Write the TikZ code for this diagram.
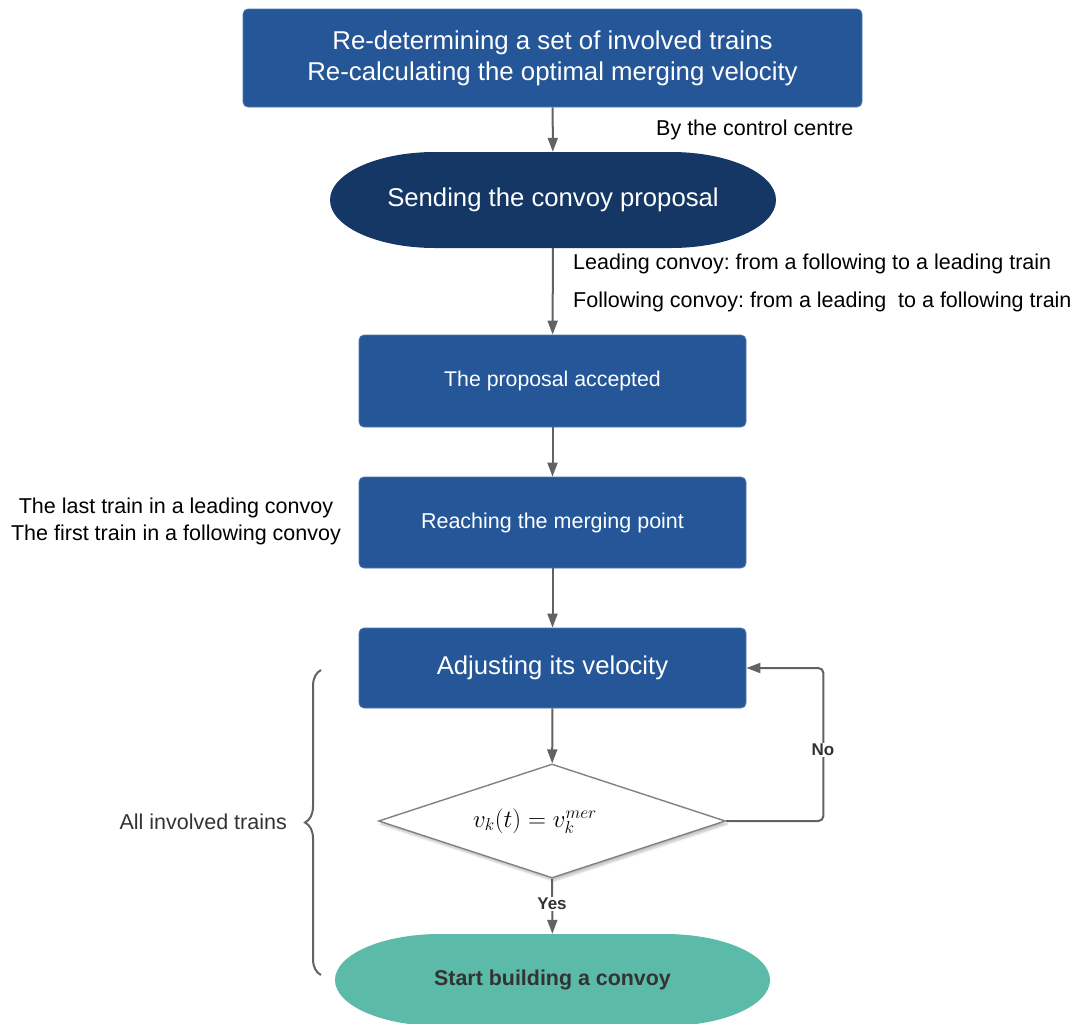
\documentclass[tikz,border=0pt]{standalone}
\usepackage{fontspec}
\setmainfont{Liberation Sans}
\frenchspacing
\usetikzlibrary{arrows.meta,shapes.geometric,decorations.pathreplacing,shadows.blur}
\definecolor{boxblue}{RGB}{36,86,152}
\definecolor{navy}{RGB}{21,55,101}
\definecolor{teal}{RGB}{91,186,168}
\definecolor{linegrey}{RGB}{98,98,98}
\definecolor{textgrey}{RGB}{51,51,51}
% terminal shape: a bar with half-elliptical ends
% #1 colour, #2 left x, #3 right x, #4 centre y, #5 half height, #6 end radius
\newcommand\terminalfill[6]{%
  \fill[#1] ({#2+#6},{#4-#5}) -- ({#3-#6},{#4-#5})
    arc[start angle=-90, end angle=90, x radius=#6, y radius=#5]
    -- ({#2+#6},{#4+#5})
    arc[start angle=90, end angle=270, x radius=#6, y radius=#5] -- cycle;}
\tikzset{
  stepbox/.style={draw=boxblue!80!white, fill=boxblue, text=white, rounded corners=5pt,
    minimum width=387pt, inner sep=0pt, align=center, line width=0.8pt},
  terminal/.style={rectangle, inner sep=0pt},
  decision/.style={diamond, aspect=3, draw=linegrey!80!white, fill=white, line width=1.4pt,
    inner sep=0pt, minimum width=347pt, minimum height=114pt,
    blur shadow={shadow xshift=2pt, shadow yshift=-3pt, shadow blur steps=8, shadow opacity=25}},
  arr/.style={draw=linegrey, line width=2pt, -{Triangle[length=14pt,width=10pt]}},
  note/.style={text=black, align=center, inner sep=0pt, font=\fontsize{21.5}{26}\selectfont},
  tag/.style={fill=white, text=textgrey, font=\fontsize{17}{20}\selectfont\bfseries, inner sep=1.5pt}
}
\begin{document}
\begin{tikzpicture}[x=1pt,y=-1pt]
\useasboundingbox (0,0) rectangle (1083,1023);

% terminal backgrounds
\terminalfill{navy}{330}{776}{200}{48}{105}
\terminalfill{teal}{335}{770}{980}{46}{105}

% process steps
\node[stepbox, minimum width=619pt, minimum height=98pt, font=\fontsize{25.8}{31}\selectfont]
  (b1) at (552.5,58) {Re-determining a set of involved trains\\Re-calculating the optimal merging velocity};
\node[terminal, text=white, minimum width=446pt, minimum height=96pt, font=\fontsize{25.7}{30}\selectfont]
  (s) at (553,200) {\raisebox{3pt}{Sending the convoy proposal}};
\node[stepbox, minimum height=92pt, font=\fontsize{21.3}{25}\selectfont]
  (b2) at (552.5,381) {The proposal accepted};
\node[stepbox, minimum height=91pt, font=\fontsize{21.5}{25}\selectfont]
  (b3) at (552.5,522.5) {Reaching the merging point};
\node[stepbox, minimum height=80pt, font=\fontsize{25.7}{30}\selectfont]
  (b4) at (552.5,668) {\raisebox{2pt}{Adjusting its velocity}};
\node[decision] (d) at (552,821) {\raisebox{6pt}{\hspace*{-34pt}\fontsize{26.5}{30}\selectfont$v_k(t) = v_k^{mer}$}};
\node[terminal, text=textgrey, minimum width=435pt, minimum height=92pt, font=\fontsize{21.4}{26}\selectfont\bfseries]
  (e) at (552.5,980) {\raisebox{5pt}{Start building a convoy}};

% connectors
\draw[arr] (b1) -- (s);
\draw[arr] (s) -- (b2);
\draw[arr] (b2) -- (b3);
\draw[arr] (b3) -- (b4);
\draw[arr] (b4) -- (d);
\draw[arr, rounded corners=5pt] (d.east) -| ([xshift=77pt]b4.east) -- (b4.east);
\draw[arr] (d) -- (e);
\node[tag] (no) at (823,750) {No};
\node[tag] (yes) at (552,904) {Yes};

% annotations
\node[note, anchor=west] (n1) at (656,130) {By the control centre};
\node[note, anchor=west] (n2) at (573,264) {Leading convoy: from a following to a leading train};
\node[note, anchor=west] (n3) at (573,302) {Following convoy: from a leading\ \ to a following train};
\node[note, font=\fontsize{21.5}{27}\selectfont] (n4) at (176,521) {The last train in a leading convoy\\The first train in a following convoy};

% group of steps carried out by all trains
\draw[decorate, decoration={brace, amplitude=16pt}, draw=linegrey, line width=2pt]
  (321,975) -- coordinate[xshift=-16pt] (tip) (321,670);
\node[note, text=textgrey, anchor=east] (n5) at (287,822) {All involved trains};
\end{tikzpicture}
\end{document}
